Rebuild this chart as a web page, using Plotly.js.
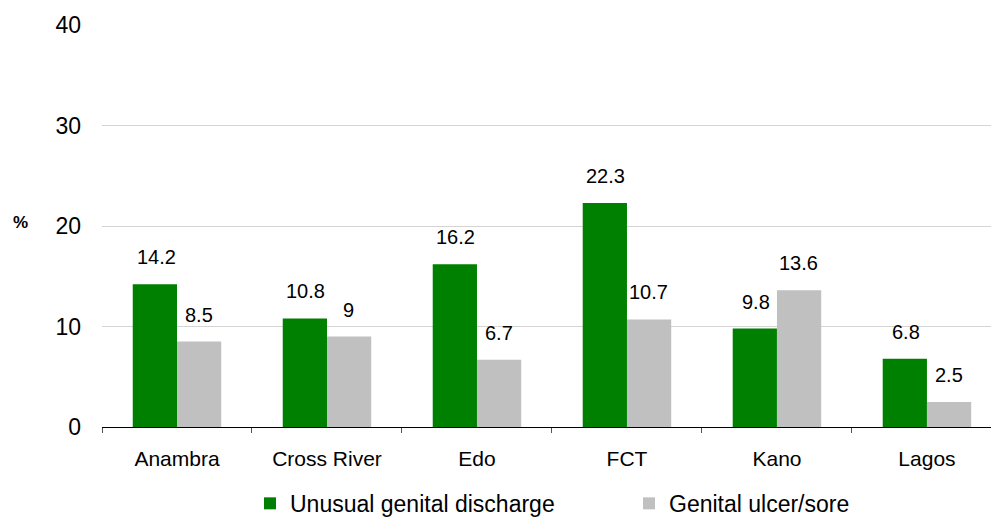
<!DOCTYPE html>
<html>
<head>
<meta charset="utf-8">
<script src="https://cdn.plot.ly/plotly-3.0.1.min.js"></script>
<style>html,body{margin:0;padding:0;background:#fff;}#chart{width:991px;height:519px;}</style>
</head>
<body>
<div id="chart"></div>
<script>
const categories = ["Anambra", "Cross River", "Edo", "FCT", "Kano", "Lagos"];
const dischargeValues = [14.2, 10.8, 16.2, 22.3, 9.8, 6.8];
const ulcerValues = [8.5, 9, 6.7, 10.7, 13.6, 2.5];
const seriesNames = ["Unusual genital discharge", "Genital ulcer/sore"];
const yTicks = [0, 10, 20, 30, 40];

const FONT = "Liberation Sans, Arial, sans-serif";

const traces = [
  {type: "bar", x: categories, y: dischargeValues, name: seriesNames[0],
   marker: {color: "#008000"}, hoverinfo: "skip", legend: "legend"},
  {type: "bar", x: categories, y: ulcerValues, name: seriesNames[1],
   marker: {color: "#c0c0c0"}, hoverinfo: "skip", legend: "legend2"}
];

const annotations = [];
categories.forEach((c, i) => {
  annotations.push({x: i, y: dischargeValues[i], xref: "x", yref: "y", text: String(dischargeValues[i]),
    showarrow: false, xshift: -21, yshift: 27, yanchor: "middle", font: {family: FONT, size: 20, color: "#000"}});
  annotations.push({x: i, y: ulcerValues[i], xref: "x", yref: "y", text: String(ulcerValues[i]),
    showarrow: false, xshift: 22, yshift: 27, yanchor: "middle", font: {family: FONT, size: 20, color: "#000"}});
});
annotations.push({xref: "paper", yref: "paper", x: -0.092, y: 0.5, text: "<b>%</b>", showarrow: false,
  xanchor: "center", yanchor: "middle", yshift: 4, font: {family: FONT, size: 17, color: "#000"}});

const legendCommon = {orientation: "h", yanchor: "middle", xanchor: "left", y: -0.19,
  font: {family: FONT, size: 23}, itemwidth: 30, bgcolor: "rgba(0,0,0,0)"};

const layout = {
  width: 991, height: 519,
  margin: {l: 102, r: 0, t: 25, b: 92, autoexpand: false},
  paper_bgcolor: "#fff", plot_bgcolor: "#fff",
  barmode: "group", bargap: 0.41, bargroupgap: 0,
  font: {family: FONT, color: "#000"},
  xaxis: {type: "category", range: [-0.5, 5.427], showline: true, linecolor: "#000", linewidth: 1,
    ticks: "outside", tickson: "boundaries", ticklen: 5, tickcolor: "#555",
    ticklabelstandoff: 13,
    showgrid: false, zeroline: false, tickfont: {family: FONT, size: 21}, fixedrange: true},
  yaxis: {range: [0, 40], tickvals: yTicks, ticktext: yTicks.map(String), showline: false,
    showgrid: true, gridcolor: "#d4d4d4", gridwidth: 1, zeroline: false, ticks: "",
    ticklabelstandoff: 20, tickfont: {family: FONT, size: 23}, fixedrange: true},
  legend: Object.assign({}, legendCommon, {x: (250 - 102) / 889}),
  legend2: Object.assign({}, legendCommon, {x: (629 - 102) / 889}),
  annotations: annotations,
  showlegend: true
};

Plotly.newPlot("chart", traces, layout, {displayModeBar: false, staticPlot: true});
</script>
</body>
</html>
